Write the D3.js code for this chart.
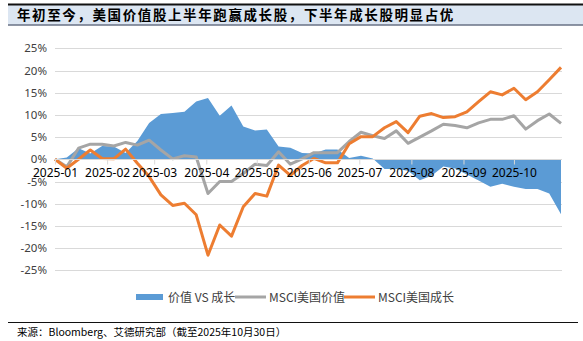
<!DOCTYPE html>
<html>
<head>
<meta charset="utf-8">
<script src="https://cdn.jsdelivr.net/npm/d3@7"></script>
<style>
  html, body { margin: 0; padding: 0; background: #fff; }
  svg { display: block; }
</style>
</head>
<body>
<svg id="chart" width="583" height="341"></svg>
<script>
// Weekly observation dates (Thursdays)
const dates = [
  "2025-01-02","2025-01-09","2025-01-16","2025-01-23","2025-01-30",
  "2025-02-06","2025-02-13","2025-02-20","2025-02-27",
  "2025-03-06","2025-03-13","2025-03-20","2025-03-27",
  "2025-04-03","2025-04-10","2025-04-17","2025-04-24",
  "2025-05-01","2025-05-08","2025-05-15","2025-05-22","2025-05-29",
  "2025-06-05","2025-06-12","2025-06-19","2025-06-26",
  "2025-07-03","2025-07-10","2025-07-17","2025-07-24","2025-07-31",
  "2025-08-07","2025-08-14","2025-08-21","2025-08-28",
  "2025-09-04","2025-09-11","2025-09-18","2025-09-25",
  "2025-10-02","2025-10-09","2025-10-16","2025-10-23","2025-10-30"
];

// Cumulative return since year start, %
const valueSpread = [
  0, 0.4, 2.5, 1.3, 3.0, 2.9, 1.4, 4.1, 8.2, 10.2, 10.4, 10.7, 13.0,
  13.8, 9.8, 12.1, 7.4, 6.5, 6.7, 2.9, 2.6, 1.4, 1.3, 2.2, 2.2, 0.3,
  0.8, 0.2, -2.2, -2.2, -2.6, -4.7, -3.7, -1.6, -2.1, -3.4, -4.8, -6.2,
  -5.5, -6.2, -6.7, -6.7, -7.7, -12.4
];
const msciValue = [
  0, -1.7, 2.5, 3.4, 3.4, 3.0, 3.8, 3.2, 4.3, 2.1, 0.1, 0.8, 0.5,
  -7.7, -5.0, -5.0, -3.2, -1.1, -1.4, 1.7, -1.1, 0.1, 1.5, 1.5, 1.5, 4.0,
  6.1, 5.3, 4.7, 6.4, 3.6, 5.0, 6.4, 7.9, 7.6, 7.1, 8.2, 9.0,
  9.0, 9.8, 6.8, 8.7, 10.2, 8.1
];
const msciGrowth = [
  0, -2.0, 0.0, 2.1, 0.2, 0.1, 2.3, -0.9, -3.9, -8.0, -10.4, -9.9, -12.5,
  -21.6, -14.8, -17.3, -10.7, -7.7, -8.3, -1.3, -3.6, -1.4, 0.2, -0.8, -0.8, 3.5,
  5.1, 5.1, 7.1, 8.5, 6.0, 9.7, 10.3, 9.4, 9.6, 10.7, 13.0, 15.2,
  14.5, 16.0, 13.4, 15.2, 17.9, 20.7
];

const yTicks = [-25, -20, -15, -10, -5, 0, 5, 10, 15, 20, 25];
const xTickDates = [
  "2025-01-02","2025-02-02","2025-03-02","2025-04-02","2025-05-02",
  "2025-06-02","2025-07-02","2025-08-02","2025-09-02","2025-10-02"
];

const title = "年初至今，美国价值股上半年跑赢成长股，下半年成长股明显占优";
const source = "来源：Bloomberg、艾德研究部（截至2025年10月30日）";
const legendNames = ["价值 VS 成长", "MSCI美国价值", "MSCI美国成长"];

const colors = { spread: "#5b9bd5", value: "#a5a5a5", growth: "#ed7d31" };

const parse = d3.timeParse("%Y-%m-%d");
const rows = dates.map((d, i) => ({
  date: parse(d), spread: valueSpread[i], value: msciValue[i], growth: msciGrowth[i]
}));

const svg = d3.select("#chart");
const cjk = "'Noto Sans CJK SC', 'Noto Sans', sans-serif";

// Title band
svg.append("rect").attr("x", 8).attr("y", 5).attr("width", 575).attr("height", 19.5)
  .attr("fill", "#dce6f2");
svg.append("line").attr("x1", 8).attr("x2", 583).attr("y1", 4.5).attr("y2", 4.5)
  .attr("stroke", "#111").attr("stroke-width", 2);
svg.append("line").attr("x1", 8).attr("x2", 583).attr("y1", 25).attr("y2", 25)
  .attr("stroke", "#1f2d4a").attr("stroke-width", 1);
svg.append("text").attr("x", 17).attr("y", 19.5)
  .attr("font-family", cjk).attr("font-size", 13.5).attr("font-weight", 700)
  .attr("letter-spacing", 1.6).attr("fill", "#000").text(title);

// Scales
const x = d3.scaleTime()
  .domain([rows[0].date, rows[rows.length - 1].date])
  .range([55, 561]);
const y = d3.scaleLinear().domain([-25, 25]).range([270.3, 48.3]);

// Gridlines
const plot = svg.append("g");
plot.append("g").selectAll("line").data(yTicks.filter(t => t !== 0)).join("line")
  .attr("x1", 55).attr("x2", 562)
  .attr("y1", d => Math.round(y(d)) + 0.5).attr("y2", d => Math.round(y(d)) + 0.5)
  .attr("stroke", "#d9d9d9").attr("stroke-width", 1);

// Y-axis labels
const yAxis = d3.axisLeft(y).tickValues(yTicks).tickFormat(d => d + "%").tickSize(0).tickPadding(8);
const yg = svg.append("g").attr("transform", "translate(55,0)").call(yAxis);
yg.select(".domain").remove();
yg.selectAll("text").attr("font-family", "'Noto Sans', sans-serif")
  .attr("font-size", 11.5).attr("fill", "#404040");

// Relative performance area
const area = d3.area().x(d => x(d.date)).y0(y(0)).y1(d => y(d.spread));
plot.append("path").datum(rows).attr("d", area).attr("fill", colors.spread);

// Zero axis with monthly ticks
const xAxis = d3.axisBottom(x)
  .tickValues(xTickDates.map(parse))
  .tickFormat(d3.timeFormat("%Y-%m"))
  .tickSize(5).tickSizeOuter(0).tickPadding(4);
const xg = svg.append("g").attr("transform", `translate(0,${Math.round(y(0)) + 0.5})`).call(xAxis);
xg.select(".domain").attr("stroke", "#d9d9d9").attr("d", "M55,0H562");
xg.selectAll(".tick line").attr("stroke", "#d9d9d9");
xg.selectAll("text").attr("font-family", "'Noto Sans', sans-serif")
  .attr("font-size", 12).attr("fill", "#000");

// Index lines
const lineOf = key => d3.line().x(d => x(d.date)).y(d => y(d[key]));
plot.append("path").datum(rows).attr("d", lineOf("value"))
  .attr("fill", "none").attr("stroke", colors.value).attr("stroke-width", 3)
  .attr("stroke-linejoin", "round");
plot.append("path").datum(rows).attr("d", lineOf("growth"))
  .attr("fill", "none").attr("stroke", colors.growth).attr("stroke-width", 3)
  .attr("stroke-linejoin", "round");
svg.node().appendChild(xg.node());

// Legend
const legend = svg.append("g").attr("font-family", cjk).attr("font-size", 12).attr("fill", "#404040");
const legendItems = [
  { name: legendNames[0], color: colors.spread, kind: "area", x: 136 },
  { name: legendNames[1], color: colors.value, kind: "line", x: 235 },
  { name: legendNames[2], color: colors.growth, kind: "line", x: 344 }
];
legendItems.forEach(item => {
  if (item.kind === "area") {
    legend.append("rect").attr("x", item.x).attr("y", 294).attr("width", 27).attr("height", 6)
      .attr("fill", item.color);
  } else {
    legend.append("line").attr("x1", item.x).attr("x2", item.x + 31)
      .attr("y1", 297).attr("y2", 297).attr("stroke", item.color).attr("stroke-width", 3);
  }
  legend.append("text").attr("x", item.x + (item.kind === "area" ? 32 : 34)).attr("y", 301.5)
    .text(item.name);
});

// Footer
svg.append("line").attr("x1", 8).attr("x2", 578).attr("y1", 322.5).attr("y2", 322.5)
  .attr("stroke", "#111").attr("stroke-width", 1);
svg.append("text").attr("x", 17).attr("y", 335.5)
  .attr("font-family", cjk).attr("font-size", 10.5).attr("fill", "#000").text(source);
</script>
</body>
</html>
